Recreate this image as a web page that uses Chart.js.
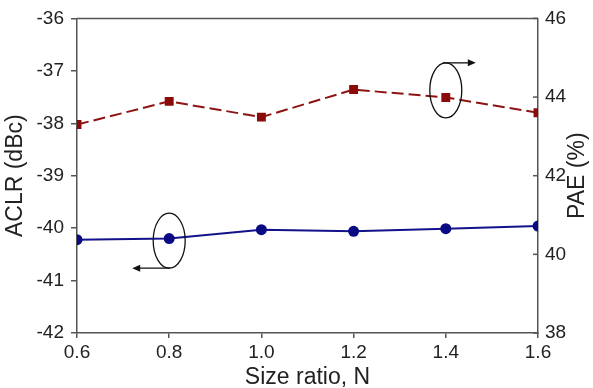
<!DOCTYPE html>
<html>
<head>
<meta charset="utf-8">
<script src="https://cdn.jsdelivr.net/npm/chart.js@4/dist/chart.umd.min.js"></script>
<style>
  html, body { margin: 0; padding: 0; background: #fff; }
  canvas { display: block; }
</style>
</head>
<body>
<canvas id="myChart" width="593" height="388"></canvas>
<script>
// data
const sizeRatio = [0.6, 0.8, 1.0, 1.2, 1.4, 1.6];
const aclrValues = [-40.22, -40.2, -40.03, -40.06, -40.01, -39.96];
const paeValues = [43.3, 43.89, 43.49, 44.19, 43.99, 43.6];

const xTicks = [0.6, 0.8, 1.0, 1.2, 1.4, 1.6];
const aclrTicks = [-42, -41, -40, -39, -38, -37, -36];
const paeTicks = [38, 40, 42, 44, 46];

// ellipse markers pointing to the axis each curve belongs to
const ovals = [
    { x: 1.4, y: 44.17, axis: 'y2', arrow: 'right' },
    { x: 0.8, y: -40.24, axis: 'y', arrow: 'left' }
];

const axisColor = '#555';
const textColor = '#222';
const fontFamily = '"Liberation Sans", Arial, sans-serif';

function toPoints(xs, ys) {
    return xs.map((x, i) => ({ x: x, y: ys[i] }));
}

function fixTicks(list) {
    return function(scale) {
        scale.ticks = list.map(v => ({ value: v }));
    };
}

// top frame line, inward ticks + title on the right axis, ovals with arrows
const extrasPlugin = {
    id: 'extras',
    afterDraw(chart) {
        const ctx = chart.ctx;
        const area = chart.chartArea;
        const y2 = chart.scales.y2;
        const xs = chart.scales.x;

        ctx.save();
        ctx.strokeStyle = axisColor;
        ctx.lineWidth = 1.5;
        ctx.beginPath();
        ctx.moveTo(area.left, area.top);
        ctx.lineTo(area.right, area.top);
        ctx.stroke();

        // right axis ticks point inward
        paeTicks.forEach(v => {
            const py = y2.getPixelForValue(v);
            ctx.beginPath();
            ctx.moveTo(area.right - 5, py);
            ctx.lineTo(area.right, py);
            ctx.stroke();
        });

        // right title reads bottom to top
        ctx.fillStyle = textColor;
        ctx.font = '23px ' + fontFamily;
        ctx.textAlign = 'center';
        ctx.textBaseline = 'middle';
        ctx.translate(578, (area.top + area.bottom) / 2);
        ctx.rotate(-Math.PI / 2);
        ctx.fillText('PAE (%)', 0, 0);
        ctx.restore();

        ctx.save();
        ctx.strokeStyle = '#111';
        ctx.fillStyle = '#111';
        ctx.lineWidth = 1.3;
        ovals.forEach(o => {
            const cx = xs.getPixelForValue(o.x);
            const cy = chart.scales[o.axis].getPixelForValue(o.y);
            const rx = 16, ry = 27.5;
            ctx.beginPath();
            ctx.ellipse(cx, cy, rx, ry, 0, 0, Math.PI * 2);
            ctx.stroke();

            let sx, sy, ex, dir;
            if (o.arrow === 'right') {
                sx = cx - 3; sy = cy - ry; ex = cx + 30; dir = 1;
            } else {
                sx = cx + 1; sy = cy + ry; ex = cx - 37; dir = -1;
            }
            ctx.beginPath();
            ctx.moveTo(sx, sy);
            ctx.lineTo(ex - dir * 6, sy);
            ctx.stroke();
            ctx.beginPath();
            ctx.moveTo(ex, sy);
            ctx.lineTo(ex - dir * 8, sy - 3.5);
            ctx.lineTo(ex - dir * 8, sy + 3.5);
            ctx.closePath();
            ctx.fill();
        });
        ctx.restore();
    }
};

const ctx = document.getElementById('myChart').getContext('2d');
const myChart = new Chart(ctx, {
    type: 'line',
    data: {
        datasets: [{
            label: 'ACLR',
            data: toPoints(sizeRatio, aclrValues),
            yAxisID: 'y',
            borderColor: '#12128c',
            backgroundColor: '#0a0a85',
            borderWidth: 2,
            pointStyle: 'circle',
            pointRadius: 5.5,
            pointBorderWidth: 0,
            tension: 0,
            clip: 0
        }, {
            label: 'PAE',
            data: toPoints(sizeRatio, paeValues),
            yAxisID: 'y2',
            borderColor: '#8e1414',
            backgroundColor: '#8b0a0a',
            borderWidth: 2,
            borderDash: [12, 5],
            pointStyle: 'rect',
            pointRadius: 6.3,
            pointBorderWidth: 0,
            tension: 0,
            clip: 0
        }]
    },
    options: {
        responsive: false,
        animation: false,
        layout: { padding: { top: 18, left: 0, right: 0, bottom: 0 } },
        plugins: {
            legend: { display: false },
            tooltip: { enabled: false }
        },
        scales: {
            x: {
                type: 'linear',
                min: 0.6,
                max: 1.6,
                afterBuildTicks: fixTicks(xTicks),
                afterFit(scale) { scale.height = 55; },
                border: { display: true, color: axisColor, width: 1.5 },
                grid: { drawOnChartArea: false, drawTicks: true, tickLength: 5, color: axisColor, lineWidth: 1.5 },
                ticks: {
                    color: textColor,
                    padding: 3,
                    font: { family: fontFamily, size: 19 },
                    callback: v => Number(v).toFixed(1)
                },
                title: {
                    display: true,
                    text: 'Size ratio, N',
                    color: textColor,
                    padding: 0,
                    font: { family: fontFamily, size: 23, lineHeight: 0.87 }
                }
            },
            y: {
                type: 'linear',
                position: 'left',
                min: -42,
                max: -36,
                afterBuildTicks: fixTicks(aclrTicks),
                afterFit(scale) { scale.width = 77; },
                border: { display: true, color: axisColor, width: 1.5 },
                grid: { drawOnChartArea: false, drawTicks: true, tickLength: 6, color: axisColor, lineWidth: 1.5 },
                ticks: {
                    color: textColor,
                    padding: 7,
                    font: { family: fontFamily, size: 19 }
                },
                title: {
                    display: true,
                    text: 'ACLR (dBc)',
                    color: textColor,
                    padding: { top: 2, bottom: 0 },
                    font: { family: fontFamily, size: 23, lineHeight: 1.2 }
                }
            },
            y2: {
                type: 'linear',
                position: 'right',
                min: 38,
                max: 46,
                afterBuildTicks: fixTicks(paeTicks),
                afterFit(scale) { scale.width = 55; },
                border: { display: true, color: axisColor, width: 1.5 },
                grid: { drawOnChartArea: false, drawTicks: false },
                ticks: {
                    color: textColor,
                    padding: 7,
                    font: { family: fontFamily, size: 19 }
                }
            }
        }
    },
    plugins: [extrasPlugin]
});
</script>
</body>
</html>
